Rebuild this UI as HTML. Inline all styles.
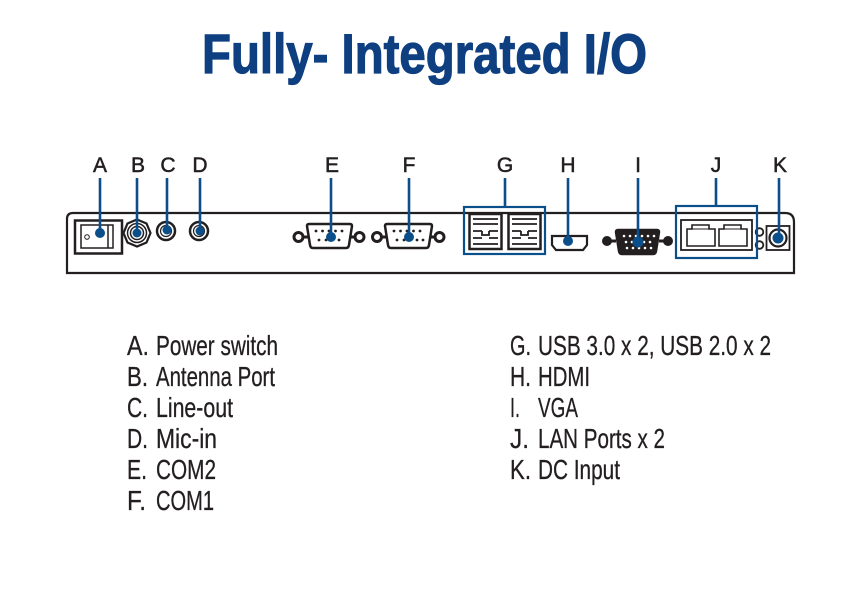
<!DOCTYPE html>
<html>
<head>
<meta charset="utf-8">
<style>
html,body{margin:0;padding:0;background:#fff;}
svg{display:block;}
</style>
</head>
<body>
<svg width="846" height="598" viewBox="0 0 846 598" xmlns="http://www.w3.org/2000/svg">
<!-- Title -->
<text x="202" y="73" font-family="Liberation Sans, sans-serif" font-weight="bold" font-size="56" fill="#0e3f80" stroke="#0e3f80" stroke-width="1.2" textLength="445" lengthAdjust="spacingAndGlyphs">Fully- Integrated I/O</text>

<!-- Top letters -->
<g font-family="Liberation Sans, sans-serif" font-size="21" fill="#231f20" text-anchor="middle" stroke="#231f20" stroke-width="0.5">
<text x="100" y="172">A</text>
<text x="138" y="172">B</text>
<text x="168" y="172">C</text>
<text x="200" y="172">D</text>
<text x="332" y="172">E</text>
<text x="409" y="172">F</text>
<text x="505" y="172">G</text>
<text x="568" y="172">H</text>
<text x="638" y="172">I</text>
<text x="716" y="172">J</text>
<text x="780" y="172">K</text>
</g>

<!-- Panel outline -->
<path d="M67,273 L67,219 Q67,213 73,213 L785,213 Q794,213 794,222 L794,273 Z" fill="none" stroke="#231f20" stroke-width="2.2"/>

<g stroke="#231f20" fill="none">
<!-- A power switch -->
<rect x="75" y="220.5" width="47" height="33" stroke-width="2.5" fill="#fff"/>
<rect x="81" y="225" width="32" height="23" stroke-width="1.5"/>
<line x1="108" y1="225" x2="108" y2="248" stroke-width="1.5"/>
<circle cx="87" cy="237" r="2.3" stroke-width="1"/>

<!-- B antenna -->
<polygon points="137,219.5 146.5,223.5 150.5,233 146.5,242.5 137,246.5 127.5,242.5 123.5,233 127.5,223.5" stroke-width="2.2"/>
<circle cx="137" cy="233" r="9.5" stroke-width="1.5"/>
<circle cx="137" cy="233" r="6.5" stroke-width="1.5"/>

<!-- C -->
<circle cx="166" cy="231" r="9" stroke-width="2.5"/>
<circle cx="166" cy="231" r="5.5" stroke-width="1.2"/>
<!-- D -->
<circle cx="199" cy="231" r="9" stroke-width="2.5"/>
<circle cx="199" cy="231" r="5.5" stroke-width="1.2"/>

<!-- E DB9 -->
<circle cx="298.5" cy="237" r="4.5" stroke-width="3"/>
<circle cx="359.5" cy="237" r="4.5" stroke-width="3"/>
<path d="M303,237 H308 M350,237 H355" stroke-width="3"/>
<path d="M307,226 Q307,224 309,224 L350,224 Q352,224 352,226 L349,245 Q348.5,248 346,248 L313,248 Q310.5,248 310,245 Z" stroke-width="2.5"/>
<!-- F DB9 -->
<circle cx="377" cy="237" r="4.5" stroke-width="3"/>
<circle cx="439.5" cy="237" r="4.5" stroke-width="3"/>
<path d="M381.5,237 H386 M430,237 H435" stroke-width="3"/>
<path d="M385,226 Q385,224 387,224 L430,224 Q432,224 432,226 L429,245 Q428.5,248 426,248 L391,248 Q388.5,248 388,245 Z" stroke-width="2.5"/>

<!-- G USB blocks -->
<g stroke-width="2.5">
<rect x="469.5" y="214" width="32" height="35"/>
<rect x="508.5" y="214" width="32" height="35"/>
</g>
<g stroke-width="1.8">
<path d="M473,219 H498 M473,224 H498 M473,231 H482 M489,231 H498 M482,231 V235 H489 V231 M473,238 H482 M489,238 H498 M473,244 H498"/>
<path d="M512,219 H537 M512,224 H537 M512,231 H521 M528,231 H537 M521,231 V235 H528 V231 M512,238 H521 M528,238 H537 M512,244 H537"/>
</g>

<!-- H HDMI -->
<path d="M552,236 H587 V245 L583,250 H556 L552,245 Z" stroke-width="2.2"/>

<!-- I VGA -->
<circle cx="607" cy="241" r="4.5" fill="#231f20" stroke-width="1"/>
<circle cx="668" cy="241" r="4.5" fill="#231f20" stroke-width="1"/>
<path d="M611,241 H616 M659,241 H664" stroke-width="3"/>
<path d="M616,232 Q616,230 618,230 L657,230 Q659,230 659,232 L656,251 Q655.5,254 653,254 L622,254 Q619.5,254 619,251 Z" stroke-width="2.5" fill="#231f20"/>
<g fill="#fff" stroke="none">
<circle cx="624" cy="236" r="1.3"/><circle cx="630" cy="236" r="1.3"/><circle cx="636" cy="236" r="1.3"/><circle cx="642" cy="236" r="1.3"/><circle cx="648" cy="236" r="1.3"/><circle cx="654" cy="236" r="1.3"/>
<circle cx="626" cy="242" r="1.3"/><circle cx="632" cy="242" r="1.3"/><circle cx="644" cy="242" r="1.3"/><circle cx="650" cy="242" r="1.3"/>
<circle cx="627" cy="248" r="1.3"/><circle cx="633" cy="248" r="1.3"/><circle cx="639" cy="248" r="1.3"/><circle cx="645" cy="248" r="1.3"/><circle cx="651" cy="248" r="1.3"/>
</g>

<!-- J LAN -->
<rect x="681" y="220" width="71" height="30" stroke-width="1.8"/>
<path d="M687,246 V229 H692 V225 H709 V229 H715 V246 Z" stroke-width="1.6"/>
<path d="M719,246 V229 H724 V225 H741 V229 H747 V246 Z" stroke-width="1.6"/>
<path d="M692,229 H709 M724,229 H741" stroke-width="1"/>
<circle cx="759.5" cy="232" r="3.8" stroke-width="1.8"/>
<circle cx="759.5" cy="245" r="3.8" stroke-width="1.8"/>

<!-- K DC -->
<rect x="766.5" y="226" width="23" height="24" stroke-width="1.8"/>
<circle cx="778" cy="238" r="8.5" stroke-width="2.2"/>
</g>

<!-- pins of DB9s -->
<g fill="#231f20">
<circle cx="316" cy="231" r="1.4"/><circle cx="322.5" cy="231" r="1.4"/><circle cx="329" cy="231" r="1.4"/><circle cx="335.5" cy="231" r="1.4"/><circle cx="342" cy="231" r="1.4"/>
<circle cx="319" cy="240" r="1.4"/><circle cx="326" cy="240" r="1.4"/><circle cx="339" cy="240" r="1.4"/>
<circle cx="394" cy="231" r="1.4"/><circle cx="400.5" cy="231" r="1.4"/><circle cx="407" cy="231" r="1.4"/><circle cx="413.5" cy="231" r="1.4"/><circle cx="420" cy="231" r="1.4"/>
<circle cx="397" cy="240" r="1.4"/><circle cx="404" cy="240" r="1.4"/><circle cx="417" cy="240" r="1.4"/><circle cx="423" cy="240" r="1.4"/>
<circle cx="137" cy="233" r="3.5"/>
</g>

<!-- Blue callout lines -->
<g stroke="#0b4f8a" stroke-width="2.6" fill="none">
<line x1="100" y1="178" x2="100" y2="233"/>
<line x1="137" y1="178" x2="137" y2="233"/>
<line x1="167" y1="178" x2="167" y2="229"/>
<line x1="200" y1="178" x2="200" y2="230"/>
<line x1="331" y1="178" x2="331" y2="237"/>
<line x1="409" y1="178" x2="409" y2="237"/>
<line x1="505" y1="178" x2="505" y2="207"/>
<rect x="464" y="207" width="81" height="47" stroke-width="2.2"/>
<line x1="568" y1="178" x2="568" y2="240"/>
<line x1="638" y1="178" x2="638" y2="241"/>
<line x1="716" y1="178" x2="716" y2="206"/>
<rect x="676" y="206" width="81" height="52" stroke-width="2.2"/>
<line x1="779" y1="178" x2="779" y2="238"/>
</g>
<g fill="#0b4f8a">
<circle cx="100" cy="233" r="5"/>
<circle cx="137" cy="233" r="4.5"/>
<circle cx="167" cy="230" r="4.5"/>
<circle cx="200" cy="231" r="4.5"/>
<circle cx="331" cy="237" r="5"/>
<circle cx="409" cy="237" r="5"/>
<circle cx="568" cy="241" r="5"/>
<circle cx="638" cy="242" r="5.5"/>
<circle cx="778" cy="238" r="5.5"/>
</g>

<!-- Legend -->
<g font-family="Liberation Sans, sans-serif" font-size="28" fill="#231f20" stroke="#231f20" stroke-width="0.3">
<text x="127" y="355" textLength="22" lengthAdjust="spacingAndGlyphs">A.</text>
<text x="156" y="355" textLength="122" lengthAdjust="spacingAndGlyphs">Power switch</text>
<text x="127" y="386" textLength="21" lengthAdjust="spacingAndGlyphs">B.</text>
<text x="156" y="386" textLength="119" lengthAdjust="spacingAndGlyphs">Antenna Port</text>
<text x="127" y="417" textLength="21" lengthAdjust="spacingAndGlyphs">C.</text>
<text x="156" y="417" textLength="77" lengthAdjust="spacingAndGlyphs">Line-out</text>
<text x="127" y="448" textLength="21" lengthAdjust="spacingAndGlyphs">D.</text>
<text x="156" y="448" textLength="61" lengthAdjust="spacingAndGlyphs">Mic-in</text>
<text x="127" y="479" textLength="20" lengthAdjust="spacingAndGlyphs">E.</text>
<text x="156" y="479" textLength="60" lengthAdjust="spacingAndGlyphs">COM2</text>
<text x="127" y="510" textLength="19" lengthAdjust="spacingAndGlyphs">F.</text>
<text x="156" y="510" textLength="58" lengthAdjust="spacingAndGlyphs">COM1</text>

<text x="510" y="355" textLength="21" lengthAdjust="spacingAndGlyphs">G.</text>
<text x="538" y="355" textLength="233" lengthAdjust="spacingAndGlyphs">USB 3.0 x 2, USB 2.0 x 2</text>
<text x="510" y="386" textLength="21" lengthAdjust="spacingAndGlyphs">H.</text>
<text x="538" y="386" textLength="52" lengthAdjust="spacingAndGlyphs">HDMI</text>
<text x="510" y="417" textLength="10" lengthAdjust="spacingAndGlyphs">I.</text>
<text x="538" y="417" textLength="40" lengthAdjust="spacingAndGlyphs">VGA</text>
<text x="510" y="448" textLength="19" lengthAdjust="spacingAndGlyphs">J.</text>
<text x="538" y="448" textLength="127" lengthAdjust="spacingAndGlyphs">LAN Ports x 2</text>
<text x="510" y="479" textLength="21" lengthAdjust="spacingAndGlyphs">K.</text>
<text x="538" y="479" textLength="82" lengthAdjust="spacingAndGlyphs">DC Input</text>
</g>
</svg>
</body>
</html>
